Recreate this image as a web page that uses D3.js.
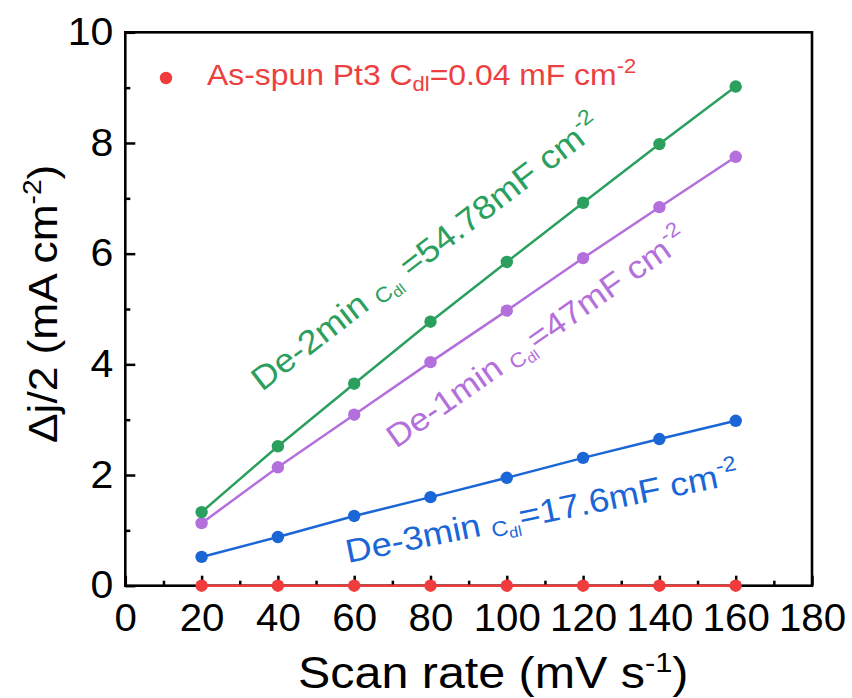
<!DOCTYPE html>
<html>
<head>
<meta charset="utf-8">
<script src="https://cdn.jsdelivr.net/npm/d3@7"></script>
<style>
  html, body { margin: 0; background: #fff; }
  svg { display: block; font-family: "Liberation Sans", Arial, sans-serif; }
</style>
</head>
<body>
<svg id="chart" width="852" height="698"></svg>
<script>
/* Cdl fits: half current-density difference vs scan rate */

// ---- data ----
var scanRate = [20, 40, 60, 80, 100, 120, 140, 160];
var de2min   = [1.33, 2.52, 3.65, 4.77, 5.85, 6.92, 7.98, 9.02];
var de1min   = [1.13, 2.14, 3.09, 4.04, 4.97, 5.92, 6.84, 7.75];
var de3min   = [0.52, 0.88, 1.26, 1.60, 1.95, 2.31, 2.65, 2.98];
var asSpun   = [0.00, 0.00, 0.00, 0.00, 0.00, 0.00, 0.00, 0.00];
var xMajor = [0, 20, 40, 60, 80, 100, 120, 140, 160, 180];
var xMinor = [10, 30, 50, 70, 90, 110, 130, 150, 170];
var yMajor = [0, 2, 4, 6, 8, 10];
var yMinor = [1, 3, 5, 7, 9];

var svg = d3.select('#chart');
var x = d3.scaleLinear().domain([0, 180]).range([125.3, 812]);
var y = d3.scaleLinear().domain([0, 10]).range([585.7, 32.3]);

var series = [
  { vals: de1min, color: '#b36fdc', label: { x: 396, y: 449, rot: -35, size: 32,
      head: 'De-1min ', tail: '=47mF cm' } },
  { vals: de2min, color: '#2ba05e', label: { x: 262, y: 392, rot: -37.5, size: 33,
      head: 'De-2min ', tail: ' =54.78mF cm' } },
  { vals: de3min, color: '#1b66d6', label: { x: 348, y: 563, rot: -11.5, size: 33,
      head: 'De-3min ', tail: '=17.6mF cm' } },
  { vals: asSpun, color: '#f03c3c', label: null }
];

// rich text: parts = [text, fontSize, shiftDown]; sx widens the type a little
function richText(parent, tx, ty, rot, sx, color, parts) {
  var t = parent.append('text')
    .attr('transform', 'translate(' + tx + ',' + ty + ') rotate(' + rot + ') scale(' + sx + ',1)')
    .attr('fill', color);
  var prev = 0;
  parts.forEach(function (p) {
    t.append('tspan').attr('font-size', p[1]).attr('dy', p[2] - prev).text(p[0]);
    prev = p[2];
  });
  return t;
}

function stretchTicks(g, sx) {
  g.selectAll('text').attr('transform', function () {
    var tx = +this.getAttribute('x') || 0;
    return 'translate(' + (tx * (1 - sx)) + ',0) scale(' + sx + ',1)';
  });
}

// ---- axes (ticks inward, left + bottom only) ----
var gy = svg.append('g').attr('transform', 'translate(' + x(0) + ',0)')
  .call(d3.axisLeft(y).tickValues(yMajor).tickSizeInner(-10).tickSizeOuter(0).tickPadding(12).tickFormat(d3.format('d')));
var gym = svg.append('g').attr('transform', 'translate(' + x(0) + ',0)')
  .call(d3.axisLeft(y).tickValues(yMinor).tickSizeInner(-5).tickSizeOuter(0).tickFormat(''));
var gx = svg.append('g').attr('transform', 'translate(0,' + y(0) + ')')
  .call(d3.axisBottom(x).tickValues(xMajor).tickSizeInner(-10).tickSizeOuter(0).tickPadding(18).tickFormat(d3.format('d')));
var gxm = svg.append('g').attr('transform', 'translate(0,' + y(0) + ')')
  .call(d3.axisBottom(x).tickValues(xMinor).tickSizeInner(-5).tickSizeOuter(0).tickFormat(''));

[gy, gym, gx, gxm].forEach(function (g) {
  g.select('.domain').remove();
  g.selectAll('line').attr('stroke', '#000').attr('stroke-width', 2.5);
  g.selectAll('text').attr('font-size', 38).attr('fill', '#000')
    .attr('font-family', '"Liberation Sans", Arial, sans-serif');
});
stretchTicks(gy, 1.08);
stretchTicks(gx, 1.06);

// frame
svg.append('rect')
  .attr('x', x(0)).attr('y', y(10))
  .attr('width', x(180) - x(0)).attr('height', y(0) - y(10))
  .attr('fill', 'none').attr('stroke', '#000').attr('stroke-width', 2.6);

// ---- series ----
var line = d3.line().x(function (d, i) { return x(scanRate[i]); }).y(function (d) { return y(d); });
series.forEach(function (s) {
  svg.append('path').datum(s.vals).attr('d', line)
    .attr('fill', 'none').attr('stroke', s.color).attr('stroke-width', 2.5);
  svg.append('g').selectAll('circle').data(s.vals).join('circle')
    .attr('cx', function (d, i) { return x(scanRate[i]); })
    .attr('cy', function (d) { return y(d); })
    .attr('r', 6.2).attr('fill', s.color);
});

// ---- in-plot labels along the fits ----
series.forEach(function (s) {
  if (!s.label) return;
  var L = s.label, f = L.size;
  richText(svg, L.x, L.y, L.rot, 1.1, s.color, [
    [L.head, f, 0],
    ['C', f * 0.64, 4],
    ['dl', f * 0.45, 8],
    [L.tail, f, 0],
    ['-2', f * 0.64, -14]
  ]);
});

// ---- legend ----
svg.append('circle').attr('cx', 166).attr('cy', 78).attr('r', 6.2).attr('fill', '#f03c3c');
richText(svg, 207, 85, 0, 1.1, '#ec4040', [
  ['As-spun Pt3 C', 29, 0],
  ['dl', 20, 6],
  ['=0.04 mF cm', 29, 0],
  ['-2', 20, -12]
]);

// ---- axis titles ----
richText(svg, 298, 688, 0, 1.1, '#000', [
  ['Scan rate (mV s', 44, 0],
  ['-1', 28, -16],
  [')', 44, 0]
]);
richText(svg, 57, 443, -90, 1.08, '#000', [
  ['\u0394j/2 (mA cm', 41, 0],
  ['-2', 26, -16],
  [')', 41, 0]
]);
</script>
</body>
</html>
